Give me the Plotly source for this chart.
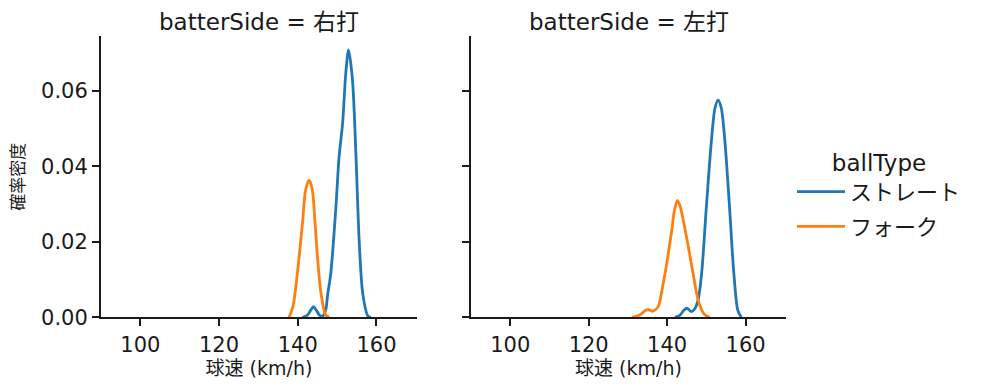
import plotly.graph_objects as go
from plotly.subplots import make_subplots

# ---- data ----
panels = ["右打", "左打"]
ball_types = ["ストレート", "フォーク"]

r_straight_x = [141.2, 142.5, 143.3, 144.0, 144.7, 145.5, 146.3, 147.1, 147.6, 148.4, 149.7, 150.5, 151.4, 152.2, 152.9, 153.9, 154.8, 155.6, 156.5, 157.8, 158.6]
r_straight_y = [0.0, 0.0006, 0.0019, 0.0028, 0.0019, 0.0006, 0.0003, 0.0020, 0.0060, 0.0117, 0.0293, 0.0426, 0.0515, 0.0647, 0.0709, 0.0630, 0.0426, 0.0205, 0.0064, 0.0004, 0.0]

r_fork_x = [137.8, 138.8, 139.9, 141.2, 142.0, 142.9, 143.7, 144.4, 145.0, 145.9, 147.1, 148.0]
r_fork_y = [0.0, 0.0030, 0.0117, 0.0249, 0.0338, 0.0364, 0.0338, 0.0250, 0.0161, 0.0064, 0.0006, 0.0]

l_straight_x = [142.0, 143.3, 144.2, 145.0, 146.2, 147.0, 147.9, 148.8, 150.0, 151.3, 152.2, 153.0, 153.8, 154.7, 155.9, 157.0, 158.0, 158.9]
l_straight_y = [0.0, 0.0006, 0.0018, 0.0024, 0.0015, 0.0022, 0.0046, 0.0117, 0.0293, 0.0470, 0.0555, 0.0576, 0.0555, 0.0470, 0.0293, 0.0117, 0.0019, 0.0]

l_fork_x = [131.0, 132.3, 133.5, 134.4, 135.3, 136.3, 137.0, 137.8, 139.0, 139.9, 141.2, 141.8, 142.6, 143.3, 144.1, 145.4, 146.6, 147.9, 149.3, 150.8]
l_fork_y = [0.0, 0.0003, 0.0010, 0.0018, 0.0020, 0.0016, 0.0020, 0.0030, 0.0090, 0.0143, 0.0232, 0.0280, 0.0310, 0.0295, 0.0258, 0.0187, 0.0117, 0.0046, 0.0010, 0.0]

x_ticks = [100, 120, 140, 160]
y_ticks = [0.00, 0.02, 0.04, 0.06]

colors = {"ストレート": "#1f77b4", "フォーク": "#ff7f0e"}
FONT = "DejaVu Sans, Noto Sans CJK JP, sans-serif"
INK = "#1a1a1a"

series = {
    ("右打", "ストレート"): (r_straight_x, r_straight_y),
    ("右打", "フォーク"): (r_fork_x, r_fork_y),
    ("左打", "ストレート"): (l_straight_x, l_straight_y),
    ("左打", "フォーク"): (l_fork_x, l_fork_y),
}

fig = make_subplots(rows=1, cols=2, shared_yaxes=True)

for ci, side in enumerate(panels, start=1):
    for bt in ball_types:
        xs, ys = series[(side, bt)]
        fig.add_trace(
            go.Scatter(
                x=xs, y=ys, mode="lines", name=bt,
                line=dict(color=colors[bt], width=2.8, shape="spline", smoothing=0.8),
                showlegend=(ci == 1), legendgroup=bt,
            ),
            row=1, col=ci,
        )

# the page body adds an 8px margin, so the figure is drawn 8px in from the window edge
OFF = 8
W, H = 995 - OFF, 391 - OFF


def px(x):
    return (x - OFF) / W


def py(y):
    return 1 - (y - OFF) / H


ydom = [py(317.3), py(36)]
xdom1 = [px(101), px(417)]
xdom2 = [px(471), px(786)]

axis_common = dict(
    showgrid=False, zeroline=False, showline=True, linecolor=INK, linewidth=2,
    ticks="outside", ticklen=7, tickwidth=2, tickcolor=INK, automargin=False,
    tickfont=dict(family=FONT, size=21, color=INK),
)
fig.update_xaxes(
    **axis_common, range=[90.0, 170.3], tickvals=x_ticks,
    title=dict(text="球速 (km/h)", font=dict(family=FONT, size=19, color=INK), standoff=6),
)
fig.update_yaxes(**axis_common, range=[0, 0.0746], tickvals=y_ticks, tickformat=".2f")
fig.update_yaxes(title=dict(text="確率密度", font=dict(family=FONT, size=17, color=INK), standoff=16), row=1, col=1)
fig.update_yaxes(showticklabels=False, row=1, col=2)

fig.update_layout(
    width=W, height=H,
    margin=dict(l=0, r=0, t=0, b=0),
    paper_bgcolor="white", plot_bgcolor="white",
    xaxis=dict(domain=xdom1),
    xaxis2=dict(domain=xdom2),
    yaxis=dict(domain=ydom),
    yaxis2=dict(domain=ydom),
    font=dict(family=FONT, color=INK),
    legend=dict(
        x=px(792), y=py(141), xanchor="left", yanchor="top",
        title=dict(text="ballType", font=dict(family=FONT, size=23, color=INK), side="top center"),
        font=dict(family=FONT, size=22, color=INK),
        bgcolor="rgba(0,0,0,0)", itemwidth=48, tracegroupgap=3,
    ),
)

for dom, side in zip([xdom1, xdom2], panels):
    fig.add_annotation(
        text=f"batterSide = {side}", x=(dom[0] + dom[1]) / 2, y=py(22),
        xref="paper", yref="paper", showarrow=False, xanchor="center", yanchor="middle",
        font=dict(family=FONT, size=23, color=INK),
    )

fig.write_html("out.html")
